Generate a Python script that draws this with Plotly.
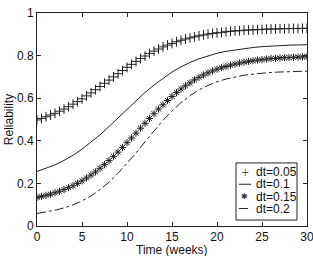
import plotly.graph_objects as go

# time grids (weeks)
t_half = [i * 0.5 for i in range(61)]
t_week = list(range(31))

# dt=0.05 ("+" markers), every 0.5 week
rel_005 = [0.498, 0.505, 0.513, 0.521, 0.529, 0.539, 0.549, 0.560, 0.572, 0.584,
           0.597, 0.611, 0.625, 0.640, 0.655, 0.670, 0.685, 0.700, 0.715, 0.730,
           0.745, 0.759, 0.773, 0.786, 0.798, 0.810, 0.821, 0.831, 0.841, 0.849,
           0.857, 0.865, 0.872, 0.878, 0.883, 0.888, 0.893, 0.897, 0.901, 0.904,
           0.907, 0.909, 0.912, 0.914, 0.916, 0.917, 0.919, 0.920, 0.921, 0.922,
           0.923, 0.924, 0.925, 0.925, 0.926, 0.926, 0.927, 0.927, 0.927, 0.928,
           0.928]

# dt=0.1 (solid line), every week
rel_01 = [0.256, 0.270, 0.287, 0.308, 0.332, 0.361, 0.393, 0.428, 0.467, 0.507,
          0.548, 0.588, 0.627, 0.662, 0.694, 0.723, 0.747, 0.768, 0.785, 0.799,
          0.811, 0.820, 0.827, 0.833, 0.838, 0.842, 0.845, 0.847, 0.849, 0.850,
          0.851]

# dt=0.15 ("*" markers), every 0.5 week
rel_015 = [0.134, 0.139, 0.144, 0.149, 0.156, 0.163, 0.171, 0.180, 0.189, 0.200,
           0.212, 0.225, 0.239, 0.254, 0.271, 0.288, 0.307, 0.327, 0.347, 0.369,
           0.391, 0.413, 0.436, 0.459, 0.482, 0.505, 0.527, 0.549, 0.569, 0.589,
           0.608, 0.626, 0.643, 0.658, 0.672, 0.686, 0.698, 0.709, 0.719, 0.728,
           0.736, 0.743, 0.749, 0.755, 0.760, 0.765, 0.769, 0.773, 0.776, 0.779,
           0.781, 0.784, 0.786, 0.787, 0.789, 0.790, 0.791, 0.792, 0.793, 0.794,
           0.795]

# dt=0.2 (dash-dot line), every week
rel_02 = [0.059, 0.065, 0.074, 0.085, 0.099, 0.118, 0.141, 0.171, 0.206, 0.247,
          0.293, 0.343, 0.395, 0.447, 0.496, 0.540, 0.579, 0.612, 0.639, 0.660,
          0.677, 0.690, 0.700, 0.708, 0.713, 0.718, 0.721, 0.723, 0.725, 0.726,
          0.727]

x_ticks = [0, 5, 10, 15, 20, 25, 30]
y_ticks = [0, 0.2, 0.4, 0.6, 0.8, 1]
legend_labels = ["dt=0.05", "dt=0.1", "dt=0.15", "dt=0.2"]

ink = "#222222"
fam = "Liberation Sans, Arial, sans-serif"
font = dict(family=fam, size=12, color="#111111")

fig = go.Figure()
fig.add_trace(go.Scatter(x=t_half, y=rel_005, mode="markers", name=legend_labels[0],
                         marker=dict(symbol="cross-thin-open", size=7,
                                     line=dict(color=ink, width=1), color=ink)))
fig.add_trace(go.Scatter(x=t_week, y=rel_01, mode="lines", name=legend_labels[1],
                         line=dict(color=ink, width=1)))
fig.add_trace(go.Scatter(x=t_half, y=rel_015, mode="markers", name=legend_labels[2],
                         marker=dict(symbol="asterisk-open", size=6,
                                     line=dict(color=ink, width=1), color=ink)))
fig.add_trace(go.Scatter(x=t_week, y=rel_02, mode="lines", name=legend_labels[3],
                         line=dict(color=ink, width=1, dash="dashdot")))

axis_common = dict(showline=True, linecolor=ink, linewidth=1, mirror="ticks",
                   ticks="inside", ticklen=4, tickcolor=ink, showgrid=False,
                   zeroline=False, tickfont=font)

fig.update_xaxes(range=[0, 30], tickvals=x_ticks, automargin=False,
                 ticklabeloverflow="allow", **axis_common)
fig.update_yaxes(range=[0, 1], tickvals=y_ticks, automargin=False,
                 title=dict(text="Reliability", font=font, standoff=0),
                 **axis_common)

# compact legend box (drawn in paper coordinates)
box_x0, box_x1, box_y0, box_y1 = 0.737, 0.963, 0.028, 0.296
row_y = [0.252, 0.196, 0.138, 0.082]
sym_x0, sym_x1, sym_xc, txt_x = 0.748, 0.793, 0.770, 0.804

shapes = [dict(type="rect", xref="paper", yref="paper", x0=box_x0, x1=box_x1,
               y0=box_y0, y1=box_y1, line=dict(color=ink, width=1),
               fillcolor="white", layer="above")]
annotations = [dict(xref="paper", yref="paper", x=0.5, y=-0.113, text="Time (weeks)",
                    showarrow=False, xanchor="center", yanchor="middle", font=font)]
for i, lab in enumerate(legend_labels):
    annotations.append(dict(xref="paper", yref="paper", x=txt_x, y=row_y[i],
                            text=lab, showarrow=False, xanchor="left",
                            yanchor="middle", font=font))
# line samples
shapes.append(dict(type="line", xref="paper", yref="paper", x0=sym_x0, x1=sym_x1,
                   y0=row_y[1], y1=row_y[1], line=dict(color=ink, width=1), layer="above"))
shapes.append(dict(type="line", xref="paper", yref="paper", x0=sym_x0, x1=sym_x1,
                   y0=row_y[3], y1=row_y[3], line=dict(color=ink, width=1, dash="dashdot"),
                   layer="above"))
# marker samples
annotations.append(dict(xref="paper", yref="paper", x=sym_xc, y=row_y[0], text="+",
                        showarrow=False, xanchor="center", yanchor="middle",
                        font=dict(family="DejaVu Sans", size=10, color="#555555")))
annotations.append(dict(xref="paper", yref="paper", x=sym_xc, y=row_y[2], text="✱",
                        showarrow=False, xanchor="center", yanchor="middle",
                        font=dict(family="DejaVu Sans", size=8, color="#333333")))

fig.update_layout(
    width=313, height=256,
    margin=dict(l=37, r=6, t=13, b=30),
    paper_bgcolor="white", plot_bgcolor="white",
    font=font,
    showlegend=False,
    shapes=shapes,
    annotations=annotations,
)

fig.write_html("out.html")
